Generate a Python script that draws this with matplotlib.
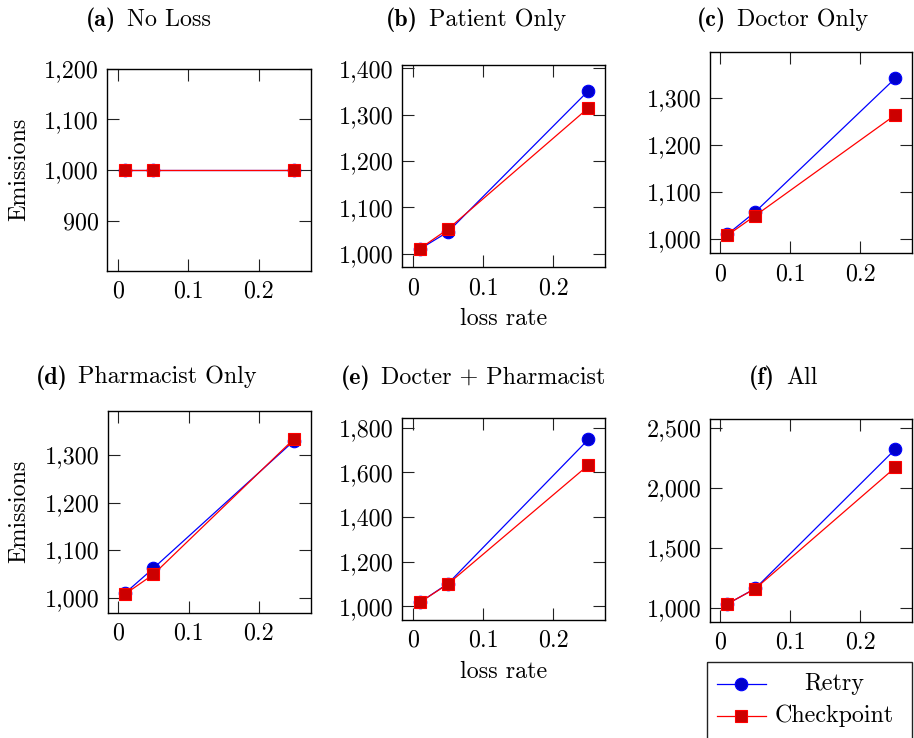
import matplotlib
matplotlib.use('Agg')
from matplotlib import pyplot as plt
from matplotlib.ticker import FuncFormatter, FixedLocator
from matplotlib.lines import Line2D
from matplotlib.patches import Rectangle

plt.rcParams['font.family'] = 'serif'
plt.rcParams['font.serif'] = ['cmr10']
plt.rcParams['mathtext.fontset'] = 'cm'
plt.rcParams['axes.formatter.use_mathtext'] = True

# data
loss_rate = [0.01, 0.05, 0.25]
titles = ['(a)', '(b)', '(c)', '(d)', '(e)', '(f)']
names = ['No Loss', 'Patient Only', 'Doctor Only', 'Pharmacist Only',
         'Docter + Pharmacist', 'All']
retry_a = [1000, 1000, 1000]
ckpt_a = [1000, 1000, 1000]
retry_b = [1010, 1047, 1352]
ckpt_b = [1011, 1053, 1315]
retry_c = [1010, 1058, 1342]
ckpt_c = [1008, 1050, 1264]
retry_d = [1010, 1062, 1330]
ckpt_d = [1008, 1049, 1334]
retry_e = [1018, 1102, 1748]
ckpt_e = [1018, 1100, 1633]
retry_f = [1030, 1160, 2322]
ckpt_f = [1031, 1158, 2170]
x_ticks = [0, 0.1, 0.2]
y_ticks = [[900, 1000, 1100, 1200],
           [1000, 1100, 1200, 1300, 1400],
           [1000, 1100, 1200, 1300],
           [1000, 1100, 1200, 1300],
           [1000, 1200, 1400, 1600, 1800],
           [1000, 1500, 2000, 2500]]
y_lims = [(801, 1200), (970.6, 1407.5), (970, 1398),
          (968.5, 1393), (939, 1845), (883, 2570)]

W, H = 914, 738
# axes boxes in pixels: left, right, top, bottom
boxes = [(107.3, 311, 68.7, 270.7), (402.3, 605.3, 65, 267.3),
         (709.7, 912.3, 51.7, 253.3), (107.7, 311, 410.7, 612.7),
         (402.3, 605.3, 417.7, 620), (709.7, 912.3, 419.3, 621.7)]
# left edge and baseline of each sub caption
title_pos = [(86, 25.5), (386, 25.7), (696.7, 25.7),
             (35.7, 383.5), (340.7, 383.5), (749, 384.3)]

retries = [retry_a, retry_b, retry_c, retry_d, retry_e, retry_f]
ckpts = [ckpt_a, ckpt_b, ckpt_c, ckpt_d, ckpt_e, ckpt_f]

fs = 17.3
fig = plt.figure(figsize=(W / 100, H / 100), dpi=100)
renderer = fig.canvas.get_renderer()

for i in range(6):
    l, r, t, b = boxes[i]
    ax = fig.add_axes([l / W, 1 - b / H, (r - l) / W, (b - t) / H])
    ax.plot(loss_rate, retries[i], color='blue', lw=0.9, marker='o', ms=9,
            mfc='#0000cc', mec='blue', mew=0.8)
    ax.plot(loss_rate, ckpts[i], color='red', lw=0.9, marker='s', ms=9,
            mfc='#cc0000', mec='red', mew=0.8)
    ax.set_xlim(-0.015, 0.274)
    ax.set_ylim(*y_lims[i])
    ax.xaxis.set_major_locator(FixedLocator(x_ticks))
    ax.yaxis.set_major_locator(FixedLocator(y_ticks[i]))
    ax.xaxis.set_major_formatter(FuncFormatter(lambda v, p: '%g' % v))
    ax.yaxis.set_major_formatter(FuncFormatter(lambda v, p: '{:,.0f}'.format(v)))
    ax.tick_params(direction='in', length=8.5, width=0.8, top=True, right=True,
                   labelsize=fs, color='#222222')
    ax.tick_params(axis='y', pad=6)
    ax.tick_params(axis='x', pad=7)
    for s in ax.spines.values():
        s.set_linewidth(1.0)
    # caption: bold label then the name
    tx, ty = title_pos[i]
    lab = fig.text(tx / W, 1 - ty / H, titles[i], ha='left', va='baseline',
                   fontsize=fs, family='cmb10')
    x1 = lab.get_window_extent(renderer).x1
    fig.text((x1 + 11) / W, 1 - ty / H, names[i], ha='left', va='baseline',
             fontsize=fs)

# axis labels (placed on their baselines)
for yc in [169.7, 511.7]:
    fig.text(25 / W, 1 - yc / H, 'Emissions', rotation=90,
             rotation_mode='anchor', ha='center', va='baseline', fontsize=fs)
for yb in [325, 678.5]:
    fig.text(503.8 / W, 1 - yb / H, 'loss rate', ha='center', va='baseline',
             fontsize=fs)

# legend drawn by hand in figure pixels
lg = fig.add_axes([0, 0, 1, 1], facecolor='none')
lg.set_xlim(0, W)
lg.set_ylim(H, 0)
lg.axis('off')
lg.add_patch(Rectangle((706.7, 662.3), 205.3, 90, fill=False, lw=1.0,
                       ec='#222222'))
lg.add_line(Line2D([716.7, 765.7], [684, 684], color='blue', lw=0.9))
lg.add_line(Line2D([741.2], [684], color='blue', marker='o', ms=9,
                   mfc='#0000cc', mec='blue', mew=0.8))
lg.add_line(Line2D([716.7, 765.7], [716, 716], color='red', lw=0.9))
lg.add_line(Line2D([741.2], [716], color='red', marker='s', ms=9,
                   mfc='#cc0000', mec='red', mew=0.8))
lg.text(834.5, 684, 'Retry', ha='center', va='center', fontsize=fs)
lg.text(834.5, 716, 'Checkpoint', ha='center', va='center', fontsize=fs)

fig.savefig('out.png', dpi=100)
